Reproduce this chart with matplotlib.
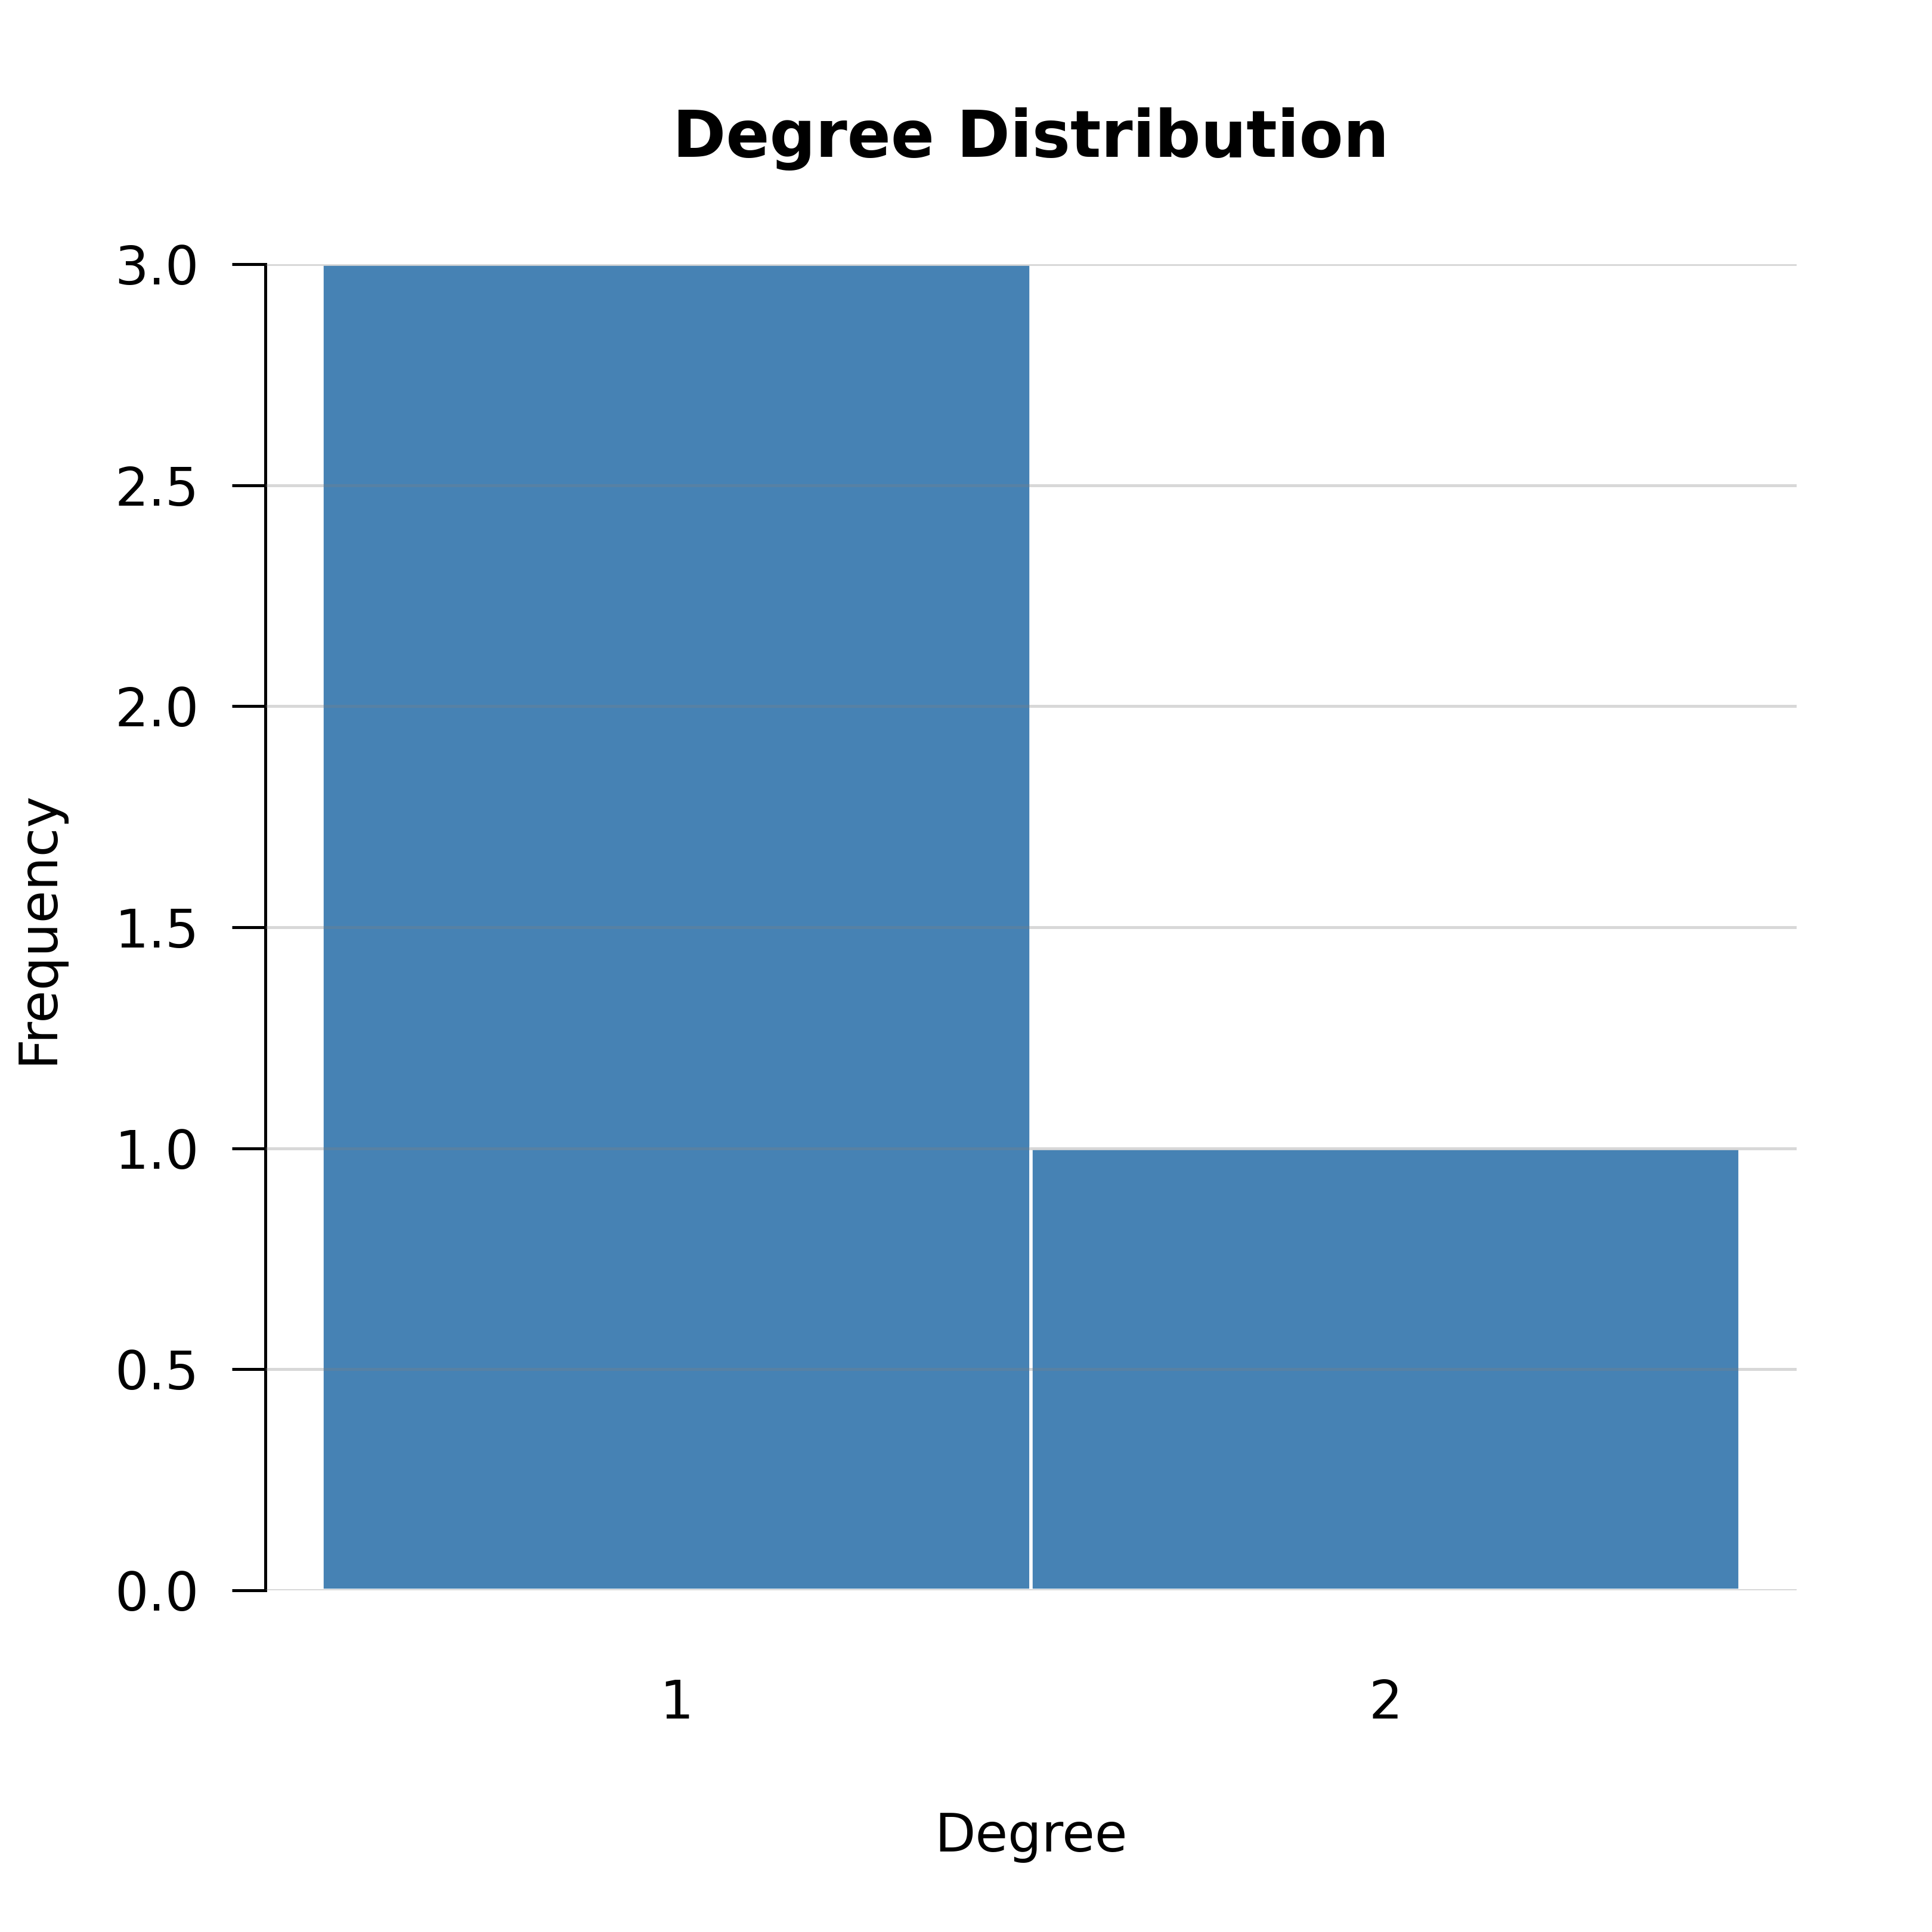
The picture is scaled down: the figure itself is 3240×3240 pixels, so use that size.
import matplotlib
matplotlib.use("Agg")
import matplotlib.pyplot as plt

degrees = [1, 2]
frequencies = [3, 1]
yticks = [0.0, 0.5, 1.0, 1.5, 2.0, 2.5, 3.0]
title = "Degree Distribution"
xlabel = "Degree"
ylabel = "Frequency"

plt.rcParams['font.family'] = ['DejaVu Sans']

fig = plt.figure(figsize=(8.1, 8.1), dpi=400)
ax = fig.add_axes([0.1373, 0.1769, 0.7926, 0.6864])

ax.bar(degrees, frequencies, width=1.0, color='#4682B4', edgecolor='white', linewidth=1.0, zorder=1)

ax.set_xlim(0.42, 2.58)
ax.set_ylim(0, 3)
ax.set_xticks(degrees)
ax.set_xticklabels([str(d) for d in degrees])
ax.set_yticks(yticks)
ax.set_yticklabels([f"{v:.1f}" for v in yticks])

ax.grid(axis='y', color='gray', alpha=0.3, linewidth=0.9, zorder=3)
ax.set_axisbelow(False)

for s in ['top', 'right', 'bottom']:
    ax.spines[s].set_visible(False)
ax.spines['left'].set_linewidth(0.9)
ax.spines['left'].set_color('black')

ax.tick_params(axis='y', length=10, width=0.9, pad=10, labelsize=16, direction='out')
ax.tick_params(axis='x', length=0, pad=26.5, labelsize=16)

ax.set_xlabel(xlabel, fontsize=16)
ax.set_ylabel(ylabel, fontsize=16)
ax.xaxis.set_label_coords(0.5, -0.1665)
ax.yaxis.set_label_coords(-0.1315, 0.5)
ax.set_title(title, fontsize=19.4, fontweight='bold', y=1.081, pad=0)

fig.savefig("out.png", dpi=400, facecolor='white')
